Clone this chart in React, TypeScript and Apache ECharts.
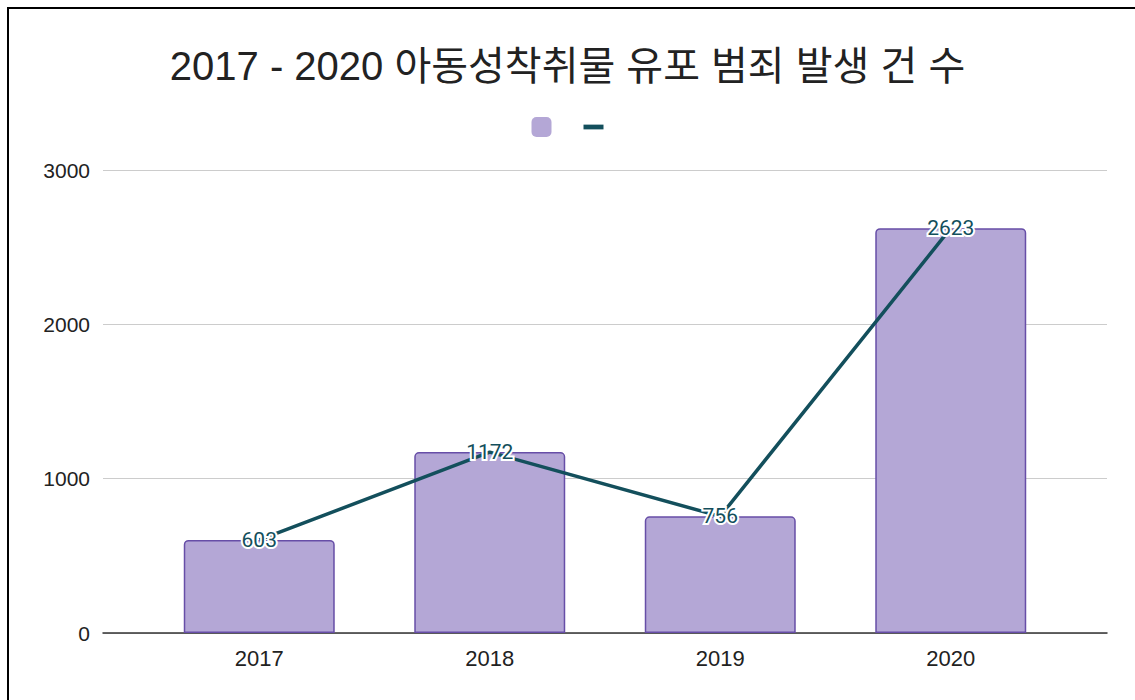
import React, { useEffect, useRef } from "react";
import * as echarts from "echarts";

const TITLE = "2017 - 2020 아동성착취물 유포 범죄 발생 건 수";
const years = ["2017", "2018", "2019", "2020"];
const barValues = [603, 1172, 756, 2623];
const lineValues = [603, 1172, 756, 2623];
const yTicks = { min: 0, max: 3000, interval: 1000 };

export default function App() {
  const ref = useRef<HTMLDivElement>(null);
  useEffect(() => {
    document.body.style.margin = "0";
    const chart = echarts.init(ref.current!, undefined, { renderer: "svg" });
    chart.setOption({
      animation: false,
      backgroundColor: "#fff",
      title: {
        text: TITLE,
        left: "center",
        top: 41,
        textStyle: {
          fontFamily: "Liberation Sans, 'Noto Sans CJK KR', sans-serif",
          fontSize: 40,
          fontWeight: "normal",
          color: "#222",
        },
      },
      legend: {
        top: 112,
        left: "center",
        itemWidth: 20,
        itemHeight: 20,
        itemGap: 32,
        formatter: () => "",
        data: [
          { name: "bar", icon: "roundRect", itemStyle: { borderWidth: 0, color: "#b4a7d6" } },
          { name: "line", icon: "path://M0 0 L21 0 L21 5 L0 5 Z" },
        ],
      },
      graphic: [
        { type: "line", shape: { x1: 7, y1: 8, x2: 1135, y2: 8 }, style: { stroke: "#000", lineWidth: 2 } },
        { type: "line", shape: { x1: 8, y1: 7, x2: 8, y2: 700 }, style: { stroke: "#000", lineWidth: 2 } },
      ],
      grid: [
        { left: 103, right: 28, top: 170, bottom: 67 },
        { left: 144, right: 69, top: 170, bottom: 67 },
      ],
      xAxis: [
        {
          gridIndex: 0,
          type: "value",
          min: 0,
          max: 1,
          axisLine: { show: true, onZero: false, lineStyle: { color: "#333", width: 1.5 } },
          axisTick: { show: false },
          axisLabel: { show: false },
          splitLine: { show: false },
        },
        {
          gridIndex: 1,
          type: "category",
          data: years,
          axisLine: { show: false },
          axisTick: { show: false },
          axisLabel: {
            margin: 14,
            fontSize: 22,
            color: "#222",
            fontFamily: "Liberation Sans, Arial, sans-serif",
          },
        },
      ],
      yAxis: [
        {
          gridIndex: 0,
          type: "value",
          ...yTicks,
          axisLine: { show: false },
          axisTick: { show: false },
          axisLabel: {
            margin: 13,
            fontSize: 21,
            color: "#222",
            fontFamily: "Liberation Sans, Arial, sans-serif",
            formatter: (v: number) => String(v),
          },
          splitLine: { lineStyle: { color: "#ccc", width: 1 } },
        },
        {
          gridIndex: 1,
          type: "value",
          ...yTicks,
          show: false,
          splitLine: { show: false },
        },
      ],
      series: [
        {
          name: "bar",
          type: "bar",
          xAxisIndex: 1,
          yAxisIndex: 1,
          data: barValues,
          barWidth: "65.5%",
          itemStyle: {
            color: "#b4a7d6",
            borderColor: "#674ea7",
            borderWidth: 1.5,
            borderRadius: [4, 4, 0, 0],
          },
        },
        {
          name: "line",
          type: "line",
          xAxisIndex: 1,
          yAxisIndex: 1,
          data: lineValues,
          color: "#134f5c",
          symbol: "circle",
          symbolSize: 0.1,
          showSymbol: true,
          lineStyle: { color: "#134f5c", width: 3.5 },
          itemStyle: { color: "#134f5c" },
          label: {
            show: true,
            position: "inside",
            fontSize: 21,
            color: "#134f5c",
            fontFamily: "Roboto, sans-serif",
            textBorderColor: "#fff",
            textBorderWidth: 4,
          },
          z: 5,
        },
      ],
    });
    return () => chart.dispose();
  }, []);
  return <div ref={ref} style={{ width: 1135, height: 700 }} />;
}
